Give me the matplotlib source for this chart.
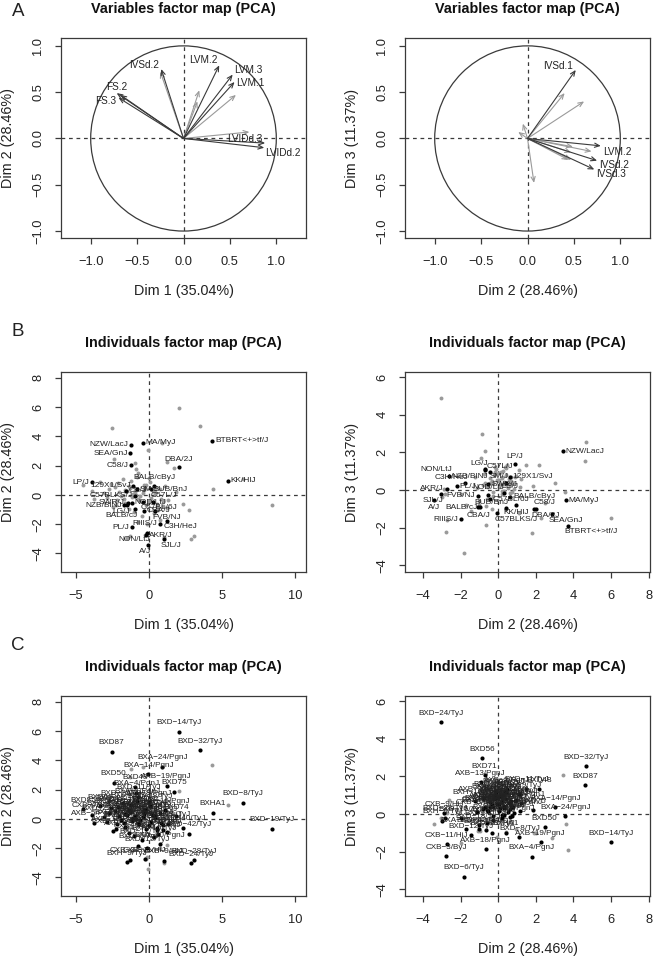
import matplotlib
matplotlib.use("Agg")
import matplotlib.pyplot as plt
import numpy as np

plt.rcParams["font.family"] = ["Liberation Sans", "DejaVu Sans"]

# variables (PCA loadings on dim 1, 2, 3)
var_names = ["IVSd.1", "IVSd.2", "IVSd.3", "LVM.1", "LVM.2", "LVM.3", "FS.1", "FS.2", "FS.3",
             "LVIDd.1", "LVIDd.2", "LVIDd.3", "LVPWd.1", "LVPWd.2"]
var_d1 = [0.17, -0.24, -0.25, 0.55, 0.385, 0.53, -0.68, -0.72, -0.70, 0.71, 0.87, 0.88, 0.565, 0.15]
var_d2 = [0.52, 0.75, 0.72, 0.61, 0.79, 0.69, 0.47, 0.49, 0.44, 0.07, -0.10, -0.05, 0.47, 0.40]
var_d3 = [0.74, -0.24, -0.335, 0.40, -0.08, -0.14, -0.15, -0.09, -0.23, -0.48, 0.07, 0.16, -0.23, 0.49]
# dark arrows per panel, with label shift from the tip in pixels
a1_black = {"IVSd.2": (-17, 4), "LVM.2": (-16, 5), "LVM.3": (16, 5), "LVM.1": (16, -1), "FS.1": None,
            "FS.2": (0, 6), "FS.3": (-13, -3), "LVIDd.2": (19, -5), "LVIDd.3": (-20, 4)}
a2_black = {"IVSd.1": (-18, 4), "LVM.2": (16, -6), "IVSd.2": (17, -4), "IVSd.3": (17, -5)}

# inbred strains
b_names = ["NZW/LacJ", "MA/MyJ", "SEA/GnJ", "C58/J", "DBA/2J", "BTBRT<+>tf/J", "KK/HlJ", "LP/J", "129X1/SvJ",
           "BALB/cByJ", "SM/J", "BUB/BnJ", "CE/J", "C57BLKS/J", "C57L/J", "C57BL/6J", "SWR/J", "NZB/BlNJ",
           "NOD/LtJ", "LG/J", "BALB/cJ", "CBA/J", "FVB/NJ", "C3H/HeJ", "RIIIS/J", "PL/J", "AKR/J", "NON/LtJ",
           "SJL/J", "A/J"]
b_d1 = [-1.23, -0.41, -1.25, -1.18, 2.05, 4.35, 5.4, -3.9, -1.05, 0.39, -0.82, 0.16, -1.53, -0.93, 0.32, -0.36,
        -1.44, -1.66, -1.16, -1.45, -0.93, -0.32, 0.46, 1.23, 0.77, -1.14, -0.18, -0.08, 1.03, -0.05]
b_d2 = [3.44, 3.58, 2.85, 2.02, 1.89, 3.69, 0.96, 0.87, 0.62, 0.64, 0.39, 0.39, 0.30, -0.07, -0.46, -0.46,
        -0.52, -0.72, -0.52, -0.71, -0.96, -1.07, -1.10, -1.76, -1.98, -2.2, -2.75, -2.6, -3.04, -3.43]
b_d3 = [2.05, -0.55, -1.27, -1.0, -1.0, -1.89, -0.8, 1.4, 0.71, -0.35, 0.39, -0.97, -0.14, -1.22, 0.94, -0.5,
        0.32, 1.06, -0.27, 1.10, -0.9, -0.92, -0.3, 0.35, -1.54, 0.21, 0.07, 0.74, -0.23, -0.53]
b1_side = ["l", "r", "l", "l", "t", "r", "r", "l", "l", "t", "r", "r", "r", "l", "tr", "br", "l", "l", "r", "bl",
           "bl", "r", "br", "br", "l", "l", "r", "bl", "br", "bl"]
b2_side = ["r", "r", "br", "tr", "br", "br", "b", "t", "r", "r", "tl", "tl", "tr", "br", "tr", "r", "r", "bl",
           "t", "tl", "l", "b", "l", "tl", "l", "r", "l", "tl", "bl", "b"]

# recombinant inbred strains
c_names = ["BXD\u221214/TyJ", "BXD\u221232/TyJ", "BXD87", "BXA\u221224/PgnJ", "BXA\u221214/PgnJ", "BXD50", "BXD48",
           "AXB\u221219/PgnJ", "BXD75", "BXA\u22124/PgnJ", "BXD\u221211/TyJ", "BXD\u22128/TyJ", "BXHA1",
           "BXD\u221219/TyJ", "BXD85", "CXB\u22127/HiJ", "AXB\u22125/PgnJ", "BXD\u221240/TyJ", "BXD\u221242/TyJ",
           "BXD56", "BXD71", "AXB\u221213/PgnJ", "BXD62", "BXD\u221224/TyJ", "CXB\u22123/ByJ", "BXD\u22126/TyJ",
           "AXB\u221218/PgnJ", "CXB\u221211/HiJ", "BXH\u22129/TyJ", "BXD\u221212/TyJ", "BXA\u221220/PgnJ",
           "BXD\u221215/TyJ", "BXD\u221228/TyJ", "BXD\u221218/TyJ", "CXB\u22129/HiJ", "BXD\u221221/TyJ",
           "BXD\u22121/TyJ", "BXD\u22122/TyJ", "BXD\u22125/TyJ", "BXD\u22129/TyJ", "BXD\u221220/TyJ", "BXD\u221222/TyJ",
           "BXD\u221223/TyJ", "BXD\u221227/TyJ", "BXD\u221229/TyJ", "BXD\u221231/TyJ", "BXD\u221233/TyJ",
           "BXD\u221234/TyJ", "BXD\u221236/TyJ", "BXD\u221238/TyJ", "BXD\u221239/TyJ", "BXD43", "BXD44", "BXD45",
           "BXD51", "BXD55", "BXD60", "BXD61", "BXD63", "BXD64", "BXD65", "BXD66", "BXD68", "BXD69", "BXD70",
           "BXD73", "BXD74", "BXA\u22121/PgnJ", "BXA\u22122/PgnJ", "BXA\u22128/PgnJ", "BXA\u221211/PgnJ",
           "BXA\u221216/PgnJ", "AXB\u22121/PgnJ", "AXB\u22122/PgnJ", "AXB\u22126/PgnJ", "AXB\u22128/PgnJ",
           "AXB\u221212/PgnJ", "AXB\u221220/PgnJ", "BXH\u22122/TyJ", "BXH\u22124/TyJ", "BXH\u221210/TyJ",
           "CXB\u22121/ByJ", "CXB\u22125/ByJ", "CXB\u22128/HiJ"]
c_d1 = [2.10, 3.51, -2.53, 0.93, -0.02, -2.39, -0.93, 1.23, 1.75, -0.87, -0.71, 6.47, 4.40, 8.45, -4.46, -3.90,
        -3.71, 2.37, 2.76, 1.28, 1.00, -1.32, -0.20, 2.89, -1.28, -0.71, -2.23, -0.27, -1.48, -0.48, 0.77, -0.14,
        3.12, 0.66, 1.03, 1.35, -1.20, -2.30, -0.40, -1.60, 0.30, -3.05, -2.70, -2.10, -1.75, -1.35, -0.95, -0.60,
        -0.25, 0.10, 0.45, 0.85, -2.55, -1.90, -1.45, -1.05, -0.70, -0.30, 0.05, 0.40, 0.75, -3.30, -2.85, -2.20,
        -1.60, -1.15, 1.90, -0.80, -0.35, 0.15, 0.55, 1.10, -2.00, -1.30, -0.65, 0.00, 0.60, -0.90, -1.70, -0.20,
        0.35, -2.45, -1.00, 0.95]
c_d2 = [5.97, 4.69, 4.60, 3.56, 3.04, 2.46, 2.19, 2.26, 1.84, 1.78, 1.50, 1.12, 0.41, -0.66, 0.66, 0.30, -0.27,
        -0.59, -1.00, -0.87, -0.73, -0.94, 0.69, -3.04, -2.78, -1.84, -0.66, -2.75, -2.97, -1.47, -1.73, -2.00,
        -2.82, -1.05, -2.88, -0.35, 0.95, 0.55, 0.15, 0.35, 0.30, 0.10, 0.42, 0.78, 1.10, 0.62, 0.22, -0.10, 0.50,
        0.88, 0.05, -0.30, 0.72, -0.05, 0.25, 0.05, -0.25, 0.68, -0.45, 0.18, 0.42, 0.85, -0.18, -0.38, -0.55,
        -0.12, 0.18, 1.22, 0.32, -0.20, -0.62, 0.60, 0.20, 0.48, -0.35, 1.15, -0.78, 0.02, -0.30, -0.72, -1.25,
        -0.82, -1.15, -0.42]
c_d3 = [-1.50, 2.55, 1.54, -0.11, 0.35, -0.71, 1.31, -1.49, 0.20, -2.27, 1.35, -1.24, -0.99, -0.85, 0.48, -0.05,
        -0.30, -0.46, -0.81, 2.97, 2.07, 1.68, 0.69, 4.88, -2.25, -3.33, -1.88, -1.61, -0.37, -1.12, -0.81, -0.23,
        -0.20, -0.60, 0.05, -0.98, 0.75, 0.60, 0.95, 1.20, 0.45, 0.30, 0.82, 0.40, 1.05, 0.25, 0.62, 1.10, 0.10,
        0.72, 0.92, 0.35, -0.10, 0.55, 1.02, 0.18, 0.78, 0.42, 0.65, -0.22, 1.15, 0.05, 1.25, 0.38, 0.15, 0.88,
        -0.05, 0.58, 0.30, 0.98, 0.22, -0.18, 0.70, 1.32, 0.48, 0.15, 0.85, 0.52, -0.12, 0.35, 0.68, 0.28, 0.12, 0.40]

ax_lab = ["Dim 1 (35.04%)", "Dim 2 (28.46%)", "Dim 3 (11.37%)"]

W, H = 654, 959
DARK = "#3a3a3a"
GRAY = "#9a9a9a"


def tick_text(vals, fmt):
    return [(fmt % t).replace("-", "\u2212") for t in vals]


def make_ax(fig, box, xlim, ylim, xticks, yticks, fmt, title, xl, yl):
    left, top, right, bottom = box
    ax = fig.add_axes([left / W, 1 - bottom / H, (right - left) / W, (bottom - top) / H])
    ax.set_xlim(xlim)
    ax.set_ylim(ylim)
    ax.set_xticks(xticks, tick_text(xticks, fmt))
    ax.set_yticks(yticks, tick_text(yticks, fmt), rotation=90, va="center")
    ax.tick_params(length=4.5, width=0.9, color=DARK, labelsize=9.3, labelcolor="#222222")
    ax.tick_params(axis="x", pad=8.5)
    ax.tick_params(axis="y", pad=7.5)
    for s in ax.spines.values():
        s.set_color(DARK)
        s.set_linewidth(0.9)
    ax.axhline(0, color=DARK, ls=(0, (3, 3)), lw=0.9, zorder=1)
    ax.axvline(0, color=DARK, ls=(0, (3, 3)), lw=0.9, zorder=1)
    fig.text((left + right) / 2 / W, 1 - (top - 29) / H, title, fontsize=10.4, fontweight="bold",
             ha="center", va="center", color="#111111")
    fig.text((left + right) / 2 / W, 1 - (bottom + 53) / H, xl, fontsize=10.4, ha="center", va="center",
             color="#222222")
    fig.text((left - 53) / W, 1 - (top + bottom) / 2 / H, yl, fontsize=10.4, rotation=90, ha="center",
             va="center", color="#222222")
    return ax


SIDES = {"l": (-2, 0, "right", "center"), "r": (2, 0, "left", "center"),
         "t": (0, 3, "center", "bottom"), "b": (0, -3, "center", "top"),
         "tl": (2, 2, "right", "bottom"), "tr": (-2, 2, "left", "bottom"),
         "bl": (2, -2, "right", "top"), "br": (-2, -2, "left", "top")}


def put_label(ax, x, y, name, side, size):
    dx, dy, ha, va = SIDES[side]
    ax.annotate(name, (x, y), xytext=(dx, dy), textcoords="offset points", ha=ha, va=va,
                fontsize=size, color="#222222", zorder=5)


def draw_vars(ax, xs, ys, black):
    for name, x, y in zip(var_names, xs, ys):
        col = DARK if name in black else GRAY
        ax.annotate("", xy=(x, y), xytext=(0, 0), zorder=4 if name in black else 3,
                    arrowprops=dict(arrowstyle="->,head_length=0.35,head_width=0.15", lw=0.8, color=col,
                                    shrinkA=0, shrinkB=0))
        if black.get(name):
            sx, sy = black[name]
            ax.annotate(name, (x, y), xytext=(sx * 0.72, sy * 0.72), textcoords="offset points", ha="center",
                        va="center", fontsize=7.2, color="#222222", zorder=5)


def draw_inds(ax, xs, ys, gx, gy):
    ax.scatter(gx, gy, s=8, color=GRAY, linewidths=0, zorder=2)
    ax.scatter(xs, ys, s=9, color="black", linewidths=0, zorder=4)


fig = plt.figure(figsize=(W / 100, H / 100), dpi=100)
unit = [-1.0, -0.5, 0.0, 0.5, 1.0]

# row A
ax = make_ax(fig, (61, 38, 306, 238), (-1.32, 1.32), (-1.075, 1.085), unit, unit, "%.1f",
             "Variables factor map (PCA)", ax_lab[0], ax_lab[1])
ax.add_patch(plt.Circle((0, 0), 1, fill=False, color=DARK, lw=0.9))
draw_vars(ax, var_d1, var_d2, a1_black)

ax = make_ax(fig, (405, 38, 650, 238), (-1.32, 1.32), (-1.075, 1.085), unit, unit, "%.1f",
             "Variables factor map (PCA)", ax_lab[1], ax_lab[2])
ax.add_patch(plt.Circle((0, 0), 1, fill=False, color=DARK, lw=0.9))
draw_vars(ax, var_d2, var_d3, a2_black)

# rows B and C share limits
xl1, yl1 = (-6.0, 10.77), (-5.27, 8.4)
xl2, yl2 = (-4.96, 8.07), (-4.35, 6.27)
xt1, yt1 = [-5, 0, 5, 10], [-4, -2, 0, 2, 4, 6, 8]
xt2, yt2 = [-4, -2, 0, 2, 4, 6, 8], [-4, -2, 0, 2, 4, 6]
title = "Individuals factor map (PCA)"

ax = make_ax(fig, (61, 372, 306, 572), xl1, yl1, xt1, yt1, "%d", title, ax_lab[0], ax_lab[1])
draw_inds(ax, b_d1, b_d2, c_d1, c_d2)
for n, x, y, s in zip(b_names, b_d1, b_d2, b1_side):
    put_label(ax, x, y, n, s, 6)

ax = make_ax(fig, (405, 372, 650, 572), xl2, yl2, xt2, yt2, "%d", title, ax_lab[1], ax_lab[2])
draw_inds(ax, b_d2, b_d3, c_d2, c_d3)
for n, x, y, s in zip(b_names, b_d2, b_d3, b2_side):
    put_label(ax, x, y, n, s, 6)

ax = make_ax(fig, (61, 696, 306, 896), xl1, yl1, xt1, yt1, "%d", title, ax_lab[0], ax_lab[1])
draw_inds(ax, c_d1, c_d2, b_d1, b_d2)
for n, x, y in zip(c_names, c_d1, c_d2):
    ax.annotate(n, (x, y), xytext=(0, 4), textcoords="offset points", ha="center", va="bottom", fontsize=5.9,
                color="#222222", zorder=5, annotation_clip=False)

ax = make_ax(fig, (405, 696, 650, 896), xl2, yl2, xt2, yt2, "%d", title, ax_lab[1], ax_lab[2])
draw_inds(ax, c_d2, c_d3, b_d2, b_d3)
for n, x, y in zip(c_names, c_d2, c_d3):
    ax.annotate(n, (x, y), xytext=(0, 4), textcoords="offset points", ha="center", va="bottom", fontsize=5.9,
                color="#222222", zorder=5, annotation_clip=False)

for letter, py in zip("ABC", [12, 331, 645]):
    fig.text(18 / W, 1 - py / H, letter, fontsize=13.5, ha="center", va="center", color="#222222")

fig.savefig("out.png", dpi=100)
